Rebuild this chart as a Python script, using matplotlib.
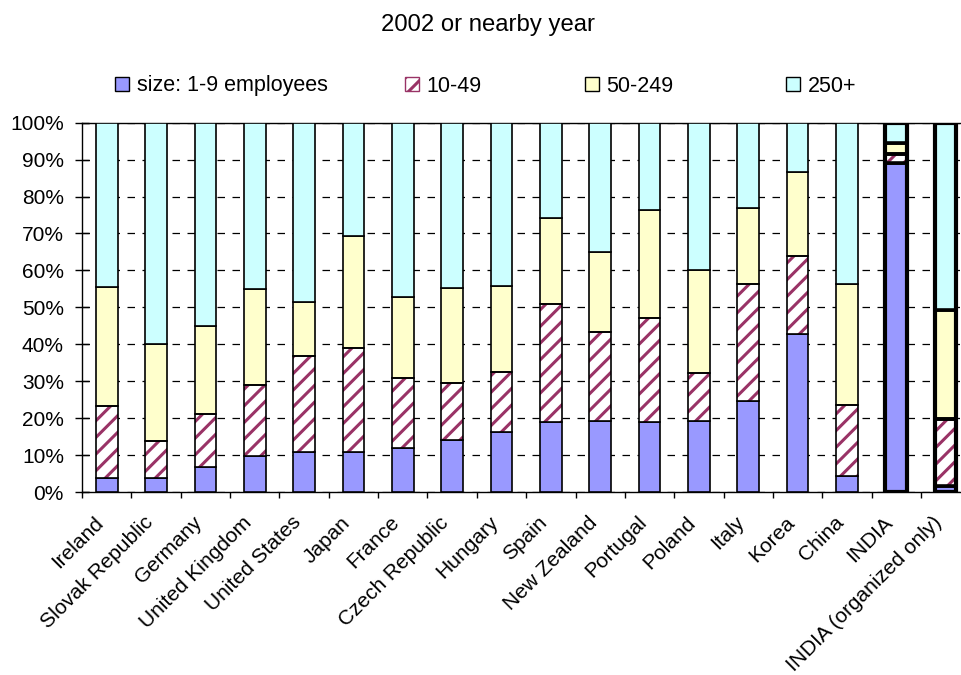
import matplotlib
matplotlib.use("Agg")
import matplotlib.pyplot as plt
from matplotlib.patches import Patch
from matplotlib.transforms import ScaledTranslation
import numpy as np

plt.rcParams['font.family'] = ['Liberation Sans', 'DejaVu Sans']
plt.rcParams['hatch.linewidth'] = 2.2

countries = ["Ireland", "Slovak Republic", "Germany", "United Kingdom", "United States",
             "Japan", "France", "Czech Republic", "Hungary", "Spain", "New Zealand",
             "Portugal", "Poland", "Italy", "Korea", "China", "INDIA",
             "INDIA (organized only)"]

size_1_9 = [3.7, 3.7, 6.9, 9.8, 10.7, 10.7, 11.8, 14.1, 16.3, 18.9, 19.3, 18.9, 19.3, 24.7, 42.7, 4.2, 89.2, 1.6]
size_10_49 = [19.6, 10.2, 14.2, 19.2, 26.0, 28.2, 19.0, 15.5, 16.1, 32.0, 24.0, 28.2, 13.0, 31.6, 21.1, 19.4, 2.3, 18.1]
size_50_249 = [32.3, 26.1, 23.9, 26.1, 14.7, 30.3, 22.1, 25.6, 23.4, 23.3, 21.6, 29.3, 27.7, 20.6, 22.8, 32.7, 3.1, 29.6]
size_250 = [44.4, 60.0, 55.0, 44.9, 48.6, 30.8, 47.1, 44.8, 44.2, 25.8, 35.1, 23.6, 40.0, 23.1, 13.4, 43.7, 5.4, 50.7]

series_labels = ["size: 1-9 employees", "10-49", "50-249", "250+"]
ytick_labels = ["0%", "10%", "20%", "30%", "40%", "50%", "60%", "70%", "80%", "90%", "100%"]

BLUE = "#9999FF"
PURPLE = "#993366"
YELLOW = "#FFFFCC"
CYAN = "#CCFFFF"

W, H = 961, 675
fig = plt.figure(figsize=(W / 100, H / 100), dpi=100)
ax = fig.add_axes([82 / W, 1 - 492 / H, 888.3 / W, (492 - 122.7) / H])

x = np.arange(len(countries))
width = 0.44
india = np.array([c.startswith("INDIA") for c in countries])
lw = np.where(india, 2.6, 1.2)

s1 = np.array(size_1_9)
s2 = np.array(size_10_49)
s3 = np.array(size_50_249)
s4 = np.array(size_250)

# stacked segments
ax.bar(x, s1, width, color=BLUE, edgecolor="black", linewidth=lw, zorder=3)
ax.bar(x, s2, width, bottom=s1, color="white", edgecolor=PURPLE, hatch="//",
       linewidth=0, zorder=3)
ax.bar(x, s2, width, bottom=s1, fill=False, edgecolor="black", linewidth=lw, zorder=4)
ax.bar(x, s3, width, bottom=s1 + s2, color=YELLOW, edgecolor="black", linewidth=lw, zorder=3)
ax.bar(x, s4, width, bottom=s1 + s2 + s3, color=CYAN, edgecolor="black", linewidth=lw, zorder=3)

# thick frame around the INDIA columns
totals = s1 + s2 + s3 + s4
ax.bar(x[india], totals[india], width, fill=False, edgecolor="black", linewidth=3.0, zorder=5)

ax.set_xlim(-0.5, len(countries) - 0.5)
ax.set_ylim(0, 100)

ax.set_yticks(np.arange(0, 101, 10))
ax.set_yticklabels(ytick_labels, fontsize=15)
ax.tick_params(axis="y", direction="inout", length=10, width=1, pad=8)

ax.set_xticks(x)
ax.set_xticklabels(countries, rotation=45, ha="right", va="top",
                   rotation_mode="anchor", fontsize=15)
ax.tick_params(axis="x", which="major", length=0, pad=15)
shift = ScaledTranslation(-13 / 100, 0, fig.dpi_scale_trans)
for lab in ax.get_xticklabels():
    lab.set_transform(lab.get_transform() + shift)
ax.set_xticks(np.arange(-0.5, len(countries), 1.0), minor=True)
ax.tick_params(axis="x", which="minor", direction="out", length=4.5, width=1)

ax.yaxis.grid(True, linestyle=(0, (6, 6)), color="black", linewidth=0.9, zorder=1)
ax.set_axisbelow(True)
for side in ["left", "bottom", "top"]:
    ax.spines[side].set_linewidth(1.0)
ax.spines["right"].set_visible(False)

fig.text(488 / W, 1 - 25 / H, "2002 or nearby year", ha="center", va="center", fontsize=17.2)

# legend entries spread across the top
handles = [
    Patch(facecolor=BLUE, edgecolor="black", linewidth=1),
    Patch(facecolor="white", edgecolor=PURPLE, hatch="//", linewidth=1),
    Patch(facecolor=YELLOW, edgecolor="black", linewidth=1),
    Patch(facecolor=CYAN, edgecolor="black", linewidth=1),
]
legend_x = [115, 405, 585, 786]
for h, lab, lx in zip(handles, series_labels, legend_x):
    leg = fig.legend(handles=[h], labels=[lab], loc="center left",
                     bbox_to_anchor=(lx / W, 1 - 86 / H), frameon=False,
                     fontsize=15.5, handlelength=0.65, handleheight=0.65,
                     handletextpad=0.35, borderpad=0, borderaxespad=0)

fig.savefig("out.png", dpi=100)
